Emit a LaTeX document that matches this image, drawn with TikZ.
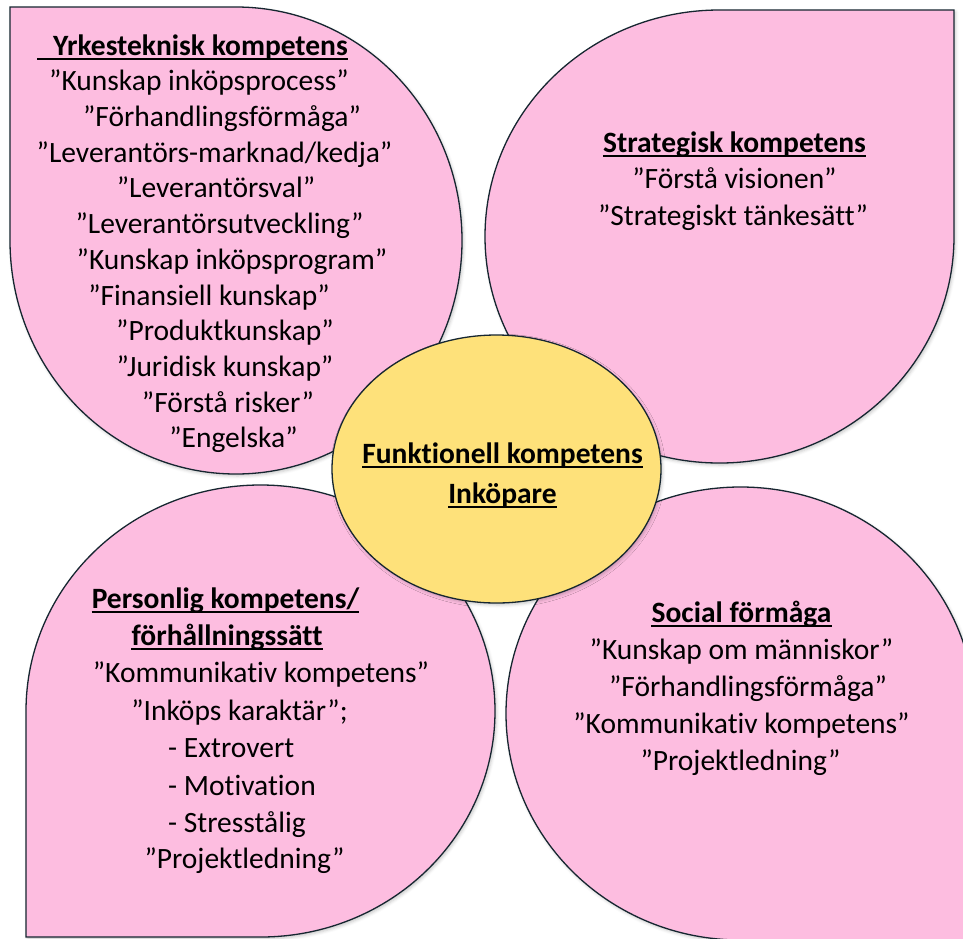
\documentclass[tikz,border=0pt]{standalone}
\usepackage{fontspec}
\setmainfont{Carlito}[Ligatures=TeX, RawFeature={-liga;-calt;-clig}]
\usetikzlibrary{shadows.blur,shapes.geometric}
\definecolor{petalpink}{RGB}{253,189,224}
\definecolor{centeryellow}{RGB}{254,225,122}
\definecolor{edgecol}{RGB}{22,38,48}
\newcommand{\fsz}{\fontsize{29.5}{36}\selectfont}
\tikzset{
  softshadow/.style={blur shadow={shadow xshift=1.5pt, shadow yshift=-2pt, shadow blur radius=3pt, shadow opacity=22}},
  petal/.style={fill=petalpink, draw=edgecol, line width=1.3pt, softshadow},
  centre/.style={fill=centeryellow, draw=edgecol, line width=1.3pt, softshadow},
  item/.style={anchor=base, inner sep=0pt, font=\fsz, text=black},
  itemleft/.style={item, anchor=base west},
  head/.style={item, font=\fsz\bfseries},
  uline/.style={line width=1.3pt, black},
}
\begin{document}
\begin{tikzpicture}[x=1pt,y=1pt]
\useasboundingbox (0,-938) rectangle (963,0);
\clip (0,-938) rectangle (963,0);
% petals
\path[petal] (10,-7) -- (236,-7) arc[start angle=90, end angle=-180, x radius=226pt, y radius=233.5pt] -- cycle;
\path[petal] (954,-10) -- (719.5,-10) arc[start angle=90, end angle=360, x radius=234.5pt, y radius=226.5pt] -- cycle;
\path[petal] (26,-937) -- (26,-711) arc[start angle=180, end angle=-90, x radius=234.5pt, y radius=226pt] -- cycle;
\path[petal] (975,-940) -- (975,-713.5) arc[start angle=0, end angle=270, x radius=234.5pt, y radius=226.5pt] -- cycle;
% centre ellipse
\node[centre, ellipse, minimum width=329pt, minimum height=268pt, inner sep=0pt] (core) at (496.5,-469) {};

% top-left
\node[head] (tlh) at (200.5,-55) {Yrkesteknisk kompetens};
\draw[uline] ([xshift=-16pt,yshift=-4pt]tlh.base west) -- ([yshift=-4pt]tlh.base east);
\node[item] (tl1) at (199,-90) {”Kunskap inköpsprocess”};
\node[item] (tl2) at (222,-126) {”Förhandlingsförmåga”};
\node[item] (tl3) at (214.5,-162) {”Leverantörs-marknad/kedja”};
\node[item] (tl4) at (216,-197) {”Leverantörsval”};
\node[item] (tl5) at (219.5,-233) {”Leverantörsutveckling”};
\node[item] (tl6) at (232,-269) {”Kunskap inköpsprogram”};
\node[item] (tl7) at (209,-305) {”Finansiell kunskap”};
\node[item] (tl8) at (225,-340) {”Produktkunskap”};
\node[item] (tl9) at (225,-376) {”Juridisk kunskap”};
\node[item] (tl10) at (228,-412) {”Förstå risker”};
\node[item] (tl11) at (233.5,-447) {”Engelska”};

% top-right
\node[head] (trh) at (734.5,-152) {Strategisk kompetens};
\draw[uline] ([yshift=-4pt]trh.base west) -- ([yshift=-4pt]trh.base east);
\node[item] (tr1) at (734.5,-188) {”Förstå visionen”};
\node[item] (tr2) at (733,-225) {”Strategiskt tänkesätt”};

% bottom-left
\node[head] (blh1) at (225.5,-608) {Personlig kompetens/};
\draw[uline] ([yshift=-4pt]blh1.base west) -- ([yshift=-4pt]blh1.base east);
\node[head] (blh2) at (227,-645) {förhållningssätt};
\draw[uline] ([yshift=-4pt]blh2.base west) -- ([yshift=-4pt]blh2.base east);
\node[item] (bl1) at (261,-682) {”Kommunikativ kompetens”};
\node[item] (bl2) at (239.5,-720) {”Inköps karaktär”;};
\node[itemleft] (bl3) at (168,-757) {- Extrovert};
\node[itemleft] (bl4) at (168,-795) {- Motivation};
\node[itemleft] (bl5) at (168,-832) {- Stresstålig};
\node[item] (bl6) at (244.5,-868) {”Projektledning”};

% bottom-right
\node[head] (brh) at (741.5,-622) {Social förmåga};
\draw[uline] ([yshift=-4pt]brh.base west) -- ([yshift=-4pt]brh.base east);
\node[item] (br1) at (741.5,-659) {”Kunskap om människor”};
\node[item] (br2) at (748,-696) {”Förhandlingsförmåga”};
\node[item] (br3) at (741.5,-733) {”Kommunikativ kompetens”};
\node[item] (br4) at (740.5,-770) {”Projektledning”};

% centre text
\node[head] (c1) at (502.5,-463) {Funktionell kompetens};
\draw[uline] ([yshift=-4pt]c1.base west) -- ([yshift=-4pt]c1.base east);
\node[head] (c2) at (502.5,-503) {Inköpare};
\draw[uline] ([yshift=-4pt]c2.base west) -- ([yshift=-4pt]c2.base east);
\end{tikzpicture}
\end{document}
